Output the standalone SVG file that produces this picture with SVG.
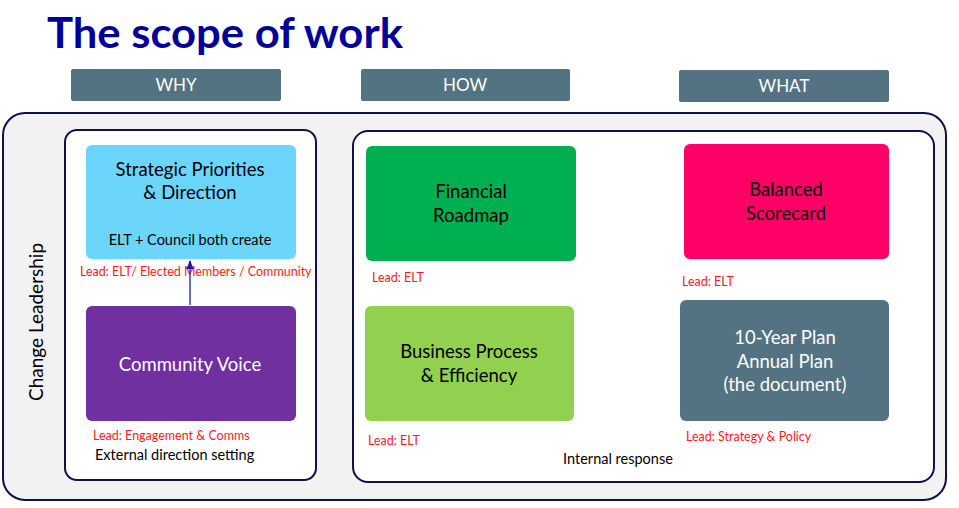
<svg xmlns="http://www.w3.org/2000/svg" width="959" height="508" viewBox="0 0 959 508">
<defs>
<style>
text{font-family:Lato,"Open Sans","Liberation Sans",sans-serif}
.hdr{fill:#547382}
.hdrt{fill:#fff;font-size:17px;text-anchor:middle}
.frame{stroke:#10104a;stroke-width:2}
.box{font-size:18.5px;text-anchor:middle}
.lead{fill:#ff1a1a;font-size:12.5px}
.note{fill:#000;font-size:14.5px}
</style>
<marker id="ah" viewBox="0 0 10 10" refX="9" refY="5" markerWidth="7" markerHeight="7" orient="auto">
<path d="M0,1 L10,5 L0,9 z" fill="#1a1aa0"/>
</marker>
</defs>
<rect width="959" height="508" fill="#fff"/>
<text x="47" y="48" font-size="42" font-weight="bold" fill="#000099" textLength="356" lengthAdjust="spacingAndGlyphs">The scope of work</text>

<g id="hdr-why"><rect class="hdr" x="71" y="69" width="210" height="32" rx="2"/><text class="hdrt" x="176" y="91">WHY</text></g>
<g id="hdr-how"><rect class="hdr" x="361" y="69" width="209" height="32" rx="2"/><text class="hdrt" x="465" y="91">HOW</text></g>
<g id="hdr-what"><rect class="hdr" x="679" y="70" width="210" height="32" rx="2"/><text class="hdrt" x="784" y="92">WHAT</text></g>

<g id="outer"><rect class="frame" x="3" y="113" width="943" height="387" rx="22" fill="#f2f2f2"/>
<text x="43" y="322" font-size="19" text-anchor="middle" transform="rotate(-90 43 322)">Change Leadership</text></g>
<g id="why-panel"><rect class="frame" x="65" y="130" width="251" height="350" rx="12" fill="#fff"/>
<text class="note" x="95" y="460">External direction setting</text></g>
<g id="how-panel"><rect class="frame" x="353" y="131" width="581" height="351" rx="15" fill="#fff"/>
<text class="note" x="618" y="464" text-anchor="middle">Internal response</text></g>

<g id="strategic"><rect x="86" y="145" width="210" height="114" rx="6" fill="#6cd5fc"/>
<text class="box" x="190" y="176">Strategic Priorities</text>
<text class="box" x="190" y="199">&amp; Direction</text>
<text x="190" y="245" font-size="14.5" text-anchor="middle">ELT + Council both create</text>
<text class="lead" x="80" y="276">Lead: ELT/ Elected Members / Community</text></g>

<g id="community"><rect x="86" y="306" width="210" height="115" rx="6" fill="#7030a0"/>
<text class="box" x="190" y="371" fill="#fff" font-size="20">Community Voice</text>
<text class="lead" x="93" y="440">Lead: Engagement &amp; Comms</text></g>

<g id="financial"><rect x="366" y="146" width="210" height="115" rx="6" fill="#00b050"/>
<text class="box" x="471" y="198">Financial</text>
<text class="box" x="471" y="222">Roadmap</text>
<text class="lead" x="372" y="282">Lead: ELT</text></g>

<g id="scorecard"><rect x="684" y="144" width="205" height="115" rx="6" fill="#ff0066"/>
<text class="box" x="786" y="196">Balanced</text>
<text class="box" x="786" y="220">Scorecard</text>
<text class="lead" x="682" y="286">Lead: ELT</text></g>

<g id="business"><rect x="365" y="306" width="209" height="115" rx="6" fill="#92d050"/>
<text class="box" x="469" y="358">Business Process</text>
<text class="box" x="469" y="382">&amp; Efficiency</text>
<text class="lead" x="368" y="445">Lead: ELT</text></g>

<g id="plan"><rect x="680" y="300" width="209" height="121" rx="6" fill="#547382"/>
<text class="box" x="785" y="344" fill="#fff">10-Year Plan</text>
<text class="box" x="785" y="368" fill="#fff">Annual Plan</text>
<text class="box" x="785" y="391" fill="#fff">(the document)</text>
<text class="lead" x="686" y="441">Lead: Strategy &amp; Policy</text></g>

<g id="connectors">
<line x1="190" y1="305" x2="190" y2="261" stroke="#1a1aa0" stroke-width="1.3" marker-end="url(#ah)"/>
</g>
</svg>
